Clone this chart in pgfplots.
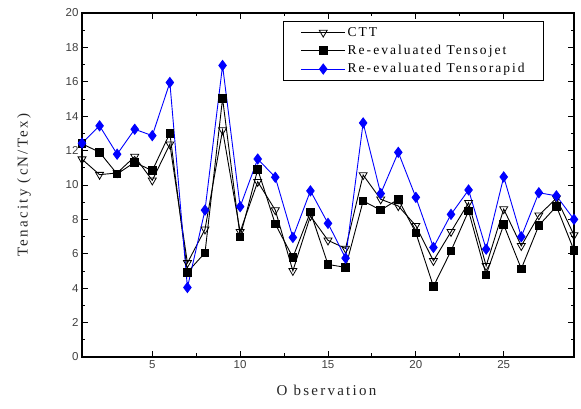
\documentclass[border=0pt]{standalone}
\usepackage{fontspec}
\setmainfont{Liberation Serif}
\setsansfont{Liberation Sans}
\newfontfamily\lblfont[LetterSpace=15]{Liberation Serif}
\usepackage{pgfplots}
\pgfplotsset{compat=1.18}
\pgfplotstableread{
x ctt jet rapid
1 11.50 12.40 12.43
2 10.60 11.90 13.44
3 10.70 10.64 11.79
4 11.65 11.32 13.24
5 10.27 10.83 12.87
6 12.37 13.01 15.96
7 5.47 4.93 4.04
8 7.42 6.06 8.54
9 13.19 15.03 16.95
10 7.28 6.99 8.74
11 10.19 10.91 11.51
12 8.54 7.73 10.45
13 5.01 5.79 6.95
14 8.20 8.43 9.66
15 6.78 5.38 7.77
16 6.31 5.21 5.75
17 10.58 9.07 13.61
18 9.17 8.54 9.50
19 8.78 9.17 11.90
20 7.63 7.22 9.28
21 5.59 4.10 6.37
22 7.28 6.17 8.29
23 8.97 8.49 9.71
24 5.30 4.78 6.27
25 8.60 7.69 10.47
26 6.46 5.13 6.99
27 8.24 7.65 9.55
28 9.23 8.76 9.37
29 7.09 6.20 8.00
}\datatable
\definecolor{myblue}{RGB}{0,0,255}
\begin{document}
\begin{tikzpicture}
\useasboundingbox (-82pt,-52pt) rectangle (499pt,357pt);
\begin{axis}[
  at={(0pt,0pt)}, anchor=south west,
  scale only axis, width=492pt, height=344pt,
  xmin=1, xmax=29, ymin=0, ymax=20,
  xtick={5,10,15,20,25},
  ytick={0,2,...,20},
  minor x tick num=1,
  minor y tick num=1,
  tick align=inside,
  major tick length=6pt,
  minor tick length=3.5pt,
  axis line style={line width=1.3pt},
  every tick/.style={black, line width=0.9pt},
  /pgf/number format/assume math mode=true,
  tick label style={font=\sffamily\fontsize{11.5}{13}\selectfont, text=black!75},
  xlabel={O bservation},
  ylabel={Tenacity (cN/Tex)},
  label style={font=\lblfont\fontsize{15}{17}\selectfont, text=black!85},
  xlabel style={at={(axis description cs:0.497,-0.096)}, anchor=center},
  ylabel style={at={(axis description cs:-0.118,0.5)}, anchor=center},
  legend style={at={(0.939,0.977)}, anchor=north east, draw=black, line width=0.8pt,
    font=\lblfont\fontsize{13.5}{15}\selectfont, cells={anchor=west}, row sep=3.5pt,
    inner xsep=17pt, inner ysep=4pt},
  legend cell align=left,
  legend image code/.code={\draw[#1,mark repeat=2,mark phase=2] plot coordinates {(0pt,0pt) (22pt,0pt) (44pt,0pt)};},
]
\addplot[black, line width=0.9pt, mark=triangle, mark size=4.6pt,
  mark options={rotate=180, fill=white, solid, line width=0.8pt}] table[x=x,y=ctt]{\datatable};
\addlegendentry{CTT}
\addplot[black, line width=0.9pt, mark=square*, mark size=3.8pt,
  mark options={fill=black, solid}] table[x=x,y=jet]{\datatable};
\addlegendentry{Re-evaluated Tensojet}
\addplot[myblue, line width=0.9pt, mark=diamond*, mark size=5pt,
  mark options={fill=myblue, solid}] table[x=x,y=rapid]{\datatable};
\addlegendentry{Re-evaluated Tensorapid}
\end{axis}
\end{tikzpicture}
\end{document}
